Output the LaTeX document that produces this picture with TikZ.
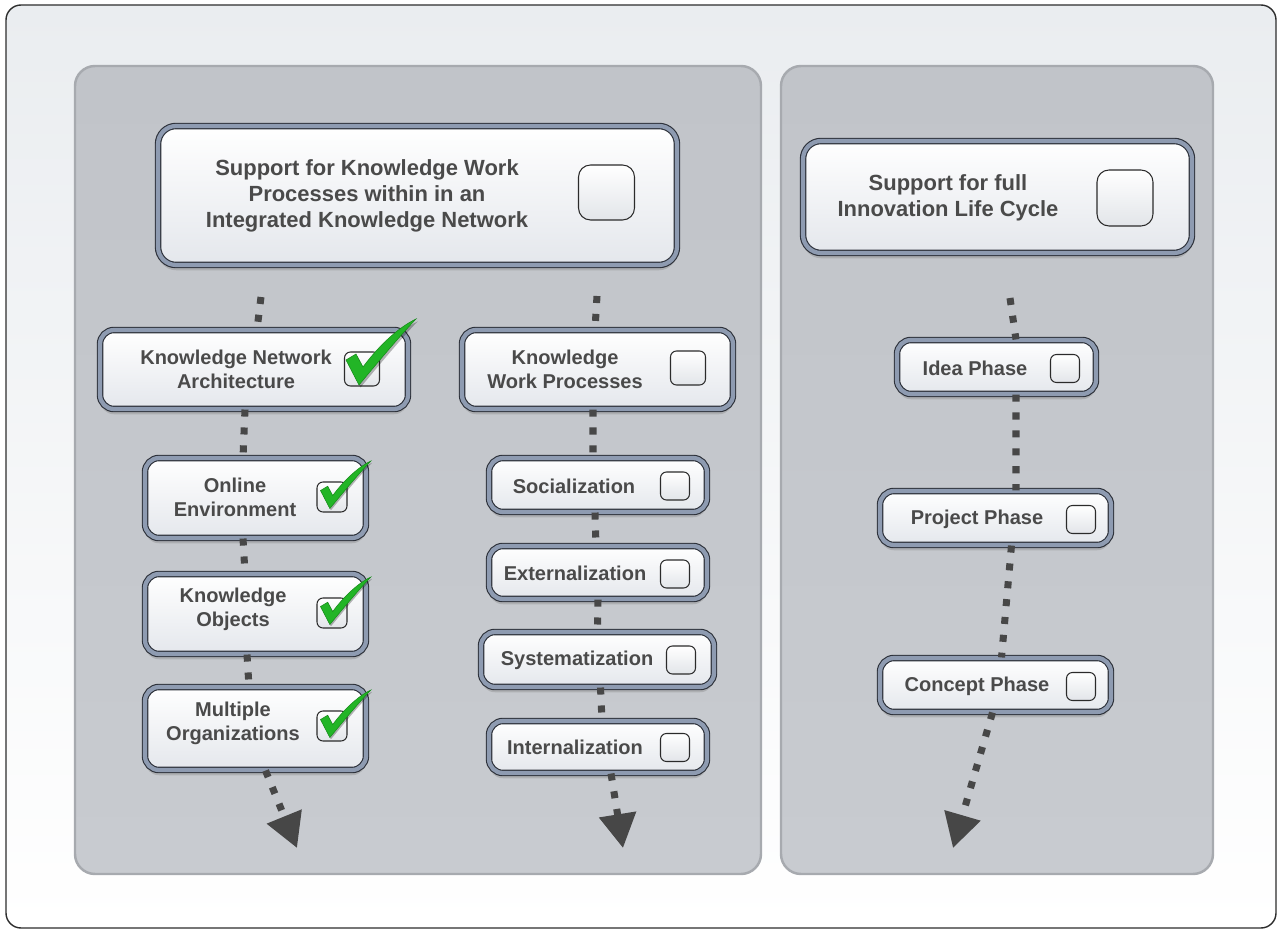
\documentclass[tikz,border=0pt]{standalone}
\usepackage{fontspec}
\setmainfont{Liberation Sans}
\usetikzlibrary{arrows.meta,shadows}
\definecolor{txt}{HTML}{4A4A4A}
\definecolor{bordk}{HTML}{2E323B}
\definecolor{band}{HTML}{8E9BB1}
\definecolor{boxbot}{HTML}{E4E7EC}
\definecolor{cbd}{HTML}{2B2B2B}
\definecolor{cbbot}{HTML}{E2E5E9}
\definecolor{connc}{HTML}{474747}
\definecolor{framec}{HTML}{2D2D2D}
\definecolor{bgtop}{HTML}{EAEDF0}
\definecolor{pantop}{HTML}{C1C4C9}
\definecolor{panbot}{HTML}{C8CBD0}
\definecolor{panbd}{HTML}{A7AAAF}
\definecolor{chkg}{HTML}{22B526}
\definecolor{chkd}{HTML}{178A1A}
\tikzset{
  box/.style={draw=bordk, line width=0.65pt, double=band, double distance=2.4pt,
    rounded corners=0.28cm, top color=white, bottom color=boxbot, inner sep=0pt,
    drop shadow={shadow xshift=0pt, shadow yshift=-3pt, opacity=0.35}},
  bigbox/.style={box, rounded corners=0.36cm},
  cbox/.style={draw=cbd, line width=0.6pt, rounded corners=0.12cm, top color=white,
    bottom color=cbbot, inner sep=0pt},
  bigcbox/.style={cbox, rounded corners=0.24cm},
  lbl/.style={font=\bfseries\fontsize{11.4}{13.6}\selectfont, text=txt, align=center, inner sep=0pt},
  biglbl/.style={lbl, font=\bfseries\fontsize{12.5}{14.8}\selectfont},
  conn/.style={draw=connc, line width=4pt, dash pattern=on 4pt off 6.2pt},
  arr/.style={conn, -{Triangle[width=0.72cm,length=0.68cm]}},
  panel/.style={draw=panbd, line width=1.4pt, rounded corners=0.4cm, top color=pantop, bottom color=panbot},
  chkshape/.style={fill=chkg, draw=chkd, line width=0.3pt},
  chkshadow/.style={fill=black, opacity=0.28}
}
\newcommand{\chkpath}{(-16,-9) -- (-6,-15) -- (1,-2) .. controls (15,-21) and (35,-41) .. (54,-50)
      .. controls (35,-30) and (12,-2) .. (-3,16) -- cycle}
\begin{document}
\begin{tikzpicture}[x=0.02cm, y=-0.02cm]
\useasboundingbox (0,0) rectangle (1282,932);
% frame and panels
\draw[draw=framec, line width=0.8pt, rounded corners=0.3cm, top color=bgtop, bottom color=white]
  (6,5) rectangle (1276,928);
\draw[panel] (75,66) rectangle (761,874);
\draw[panel] (781,66) rectangle (1213,874);

% connector free ends
\coordinate (sL) at (261,297);
\coordinate (sM) at (597,296);
\coordinate (sR) at (1010,298);
\coordinate (aL) at (297,848);
\coordinate (aM) at (623,848);
\coordinate (aR) at (953,848);

% boxes
\node[bigbox, minimum width=10.38cm, minimum height=2.78cm] (kw) at (417.5,195.5) {};
\node[bigbox, minimum width=7.78cm, minimum height=2.24cm] (ilc) at (997.5,197) {};
\node[box, minimum width=6.16cm, minimum height=1.58cm] (kna) at (254,369.5) {};
\node[box, minimum width=5.42cm, minimum height=1.58cm] (kwp) at (597.5,369.5) {};
\node[box, minimum width=4.42cm, minimum height=1.6cm] (oe) at (255.5,498) {};
\node[box, minimum width=4.42cm, minimum height=1.6cm] (ko) at (255.5,614) {};
\node[box, minimum width=4.42cm, minimum height=1.66cm] (mo) at (255.5,728.5) {};
\node[box, minimum width=4.36cm, minimum height=1.08cm] (soc) at (598,485) {};
\node[box, minimum width=4.36cm, minimum height=1.06cm] (ext) at (598,572.5) {};
\node[box, minimum width=4.66cm, minimum height=1.1cm] (sys) at (597.5,659.5) {};
\node[box, minimum width=4.36cm, minimum height=1.04cm] (int) at (598,747) {};
\node[box, minimum width=3.98cm, minimum height=1.08cm] (idea) at (996.5,367) {};
\node[box, minimum width=4.62cm, minimum height=1.08cm] (proj) at (995.5,518) {};
\node[box, minimum width=4.62cm, minimum height=1.08cm] (conc) at (995.5,685) {};

% connectors
\draw[conn] (sL) -- ([xshift=0.06cm]kna.north);
\draw[conn] ([xshift=-0.18cm]kna.south) -- ([xshift=-0.25cm]oe.north);
\draw[conn] ([xshift=-0.25cm]oe.south) -- ([xshift=-0.21cm]ko.north);
\draw[conn] ([xshift=-0.17cm]ko.south) -- ([xshift=-0.13cm]mo.north);
\draw[arr] ([xshift=0.2cm]mo.south) -- (aL);
\draw[conn] (sM) -- ([xshift=-0.05cm]kwp.north);
\draw[conn] ([xshift=-0.09cm]kwp.south) -- ([xshift=-0.1cm]soc.north);
\draw[conn] ([xshift=-0.06cm]soc.south) -- ([xshift=-0.04cm]ext.north);
\draw[conn] (ext.south) -- (sys.north);
\draw[conn] ([xshift=0.06cm]sys.south) -- ([xshift=0.08cm]int.north);
\draw[arr] ([xshift=0.26cm]int.south) -- (aM);
\draw[conn] (sR) -- ([xshift=0.39cm]idea.north);
\draw[conn] ([xshift=0.39cm]idea.south) -- ([xshift=0.41cm]proj.north);
\draw[conn] ([xshift=0.32cm]proj.south) -- ([xshift=0.12cm]conc.north);
\draw[arr] ([xshift=-0.06cm]conc.south) -- (aR);

% labels
\node[biglbl] (kwt) at (367,196) {Support for Knowledge Work\\Processes within in an\\Integrated Knowledge Network};
\node[biglbl] (ilct) at (948,198) {Support for full\\Innovation Life Cycle};
\node[lbl] (knat) at (236,369) {Knowledge Network\\Architecture};
\node[lbl] (kwpt) at (565,369) {Knowledge\\Work Processes};
\node[lbl] (oet) at (235,497) {Online\\Environment};
\node[lbl] (kot) at (233,609) {Knowledge\\Objects};
\node[lbl] (mot) at (233,723) {Multiple\\Organizations};
\node[lbl] (soct) at (574,486) {Socialization};
\node[lbl] (extt) at (575,573) {Externalization};
\node[lbl] (syst) at (577,660) {Systematization};
\node[lbl] (intt) at (575,747) {Internalization};
\node[lbl] (ideat) at (975,368) {Idea Phase};
\node[lbl] (projt) at (977,519) {Project Phase};
\node[lbl] (conct) at (977,686) {Concept Phase};

% checkboxes
\node[bigcbox, minimum width=1.12cm, minimum height=1.1cm] (kwc) at (606.5,192.5) {};
\node[bigcbox, minimum width=1.12cm, minimum height=1.12cm] (ilcc) at (1125,198) {};
\node[cbox, minimum width=0.7cm, minimum height=0.68cm] (knac) at (362,369) {};
\node[cbox, minimum width=0.7cm, minimum height=0.68cm] (kwpc) at (688,368) {};
\node[cbox, minimum width=0.6cm, minimum height=0.6cm] (oec) at (332,497) {};
\node[cbox, minimum width=0.6cm, minimum height=0.6cm] (koc) at (332,613) {};
\node[cbox, minimum width=0.6cm, minimum height=0.6cm] (moc) at (332,726) {};
\node[cbox, minimum width=0.58cm, minimum height=0.56cm] (socc) at (675,486) {};
\node[cbox, minimum width=0.58cm, minimum height=0.56cm] (extc) at (675,574) {};
\node[cbox, minimum width=0.58cm, minimum height=0.56cm] (sysc) at (681,660) {};
\node[cbox, minimum width=0.58cm, minimum height=0.56cm] (intc) at (675,747.5) {};
\node[cbox, minimum width=0.58cm, minimum height=0.56cm] (ideac) at (1065,368.5) {};
\node[cbox, minimum width=0.58cm, minimum height=0.56cm] (projc) at (1081,519.5) {};
\node[cbox, minimum width=0.58cm, minimum height=0.56cm] (concc) at (1081,686.5) {};

% check marks
\foreach \c/\s in {knac/1, oec/0.72, koc/0.72, moc/0.72}{
  \begin{scope}[shift={(\c)}, scale=\s]
    \begin{scope}[shift={(1.5,2.5)}]
      \path[chkshadow] \chkpath;
    \end{scope}
    \path[chkshape] \chkpath;
  \end{scope}
}
\end{tikzpicture}
\end{document}
